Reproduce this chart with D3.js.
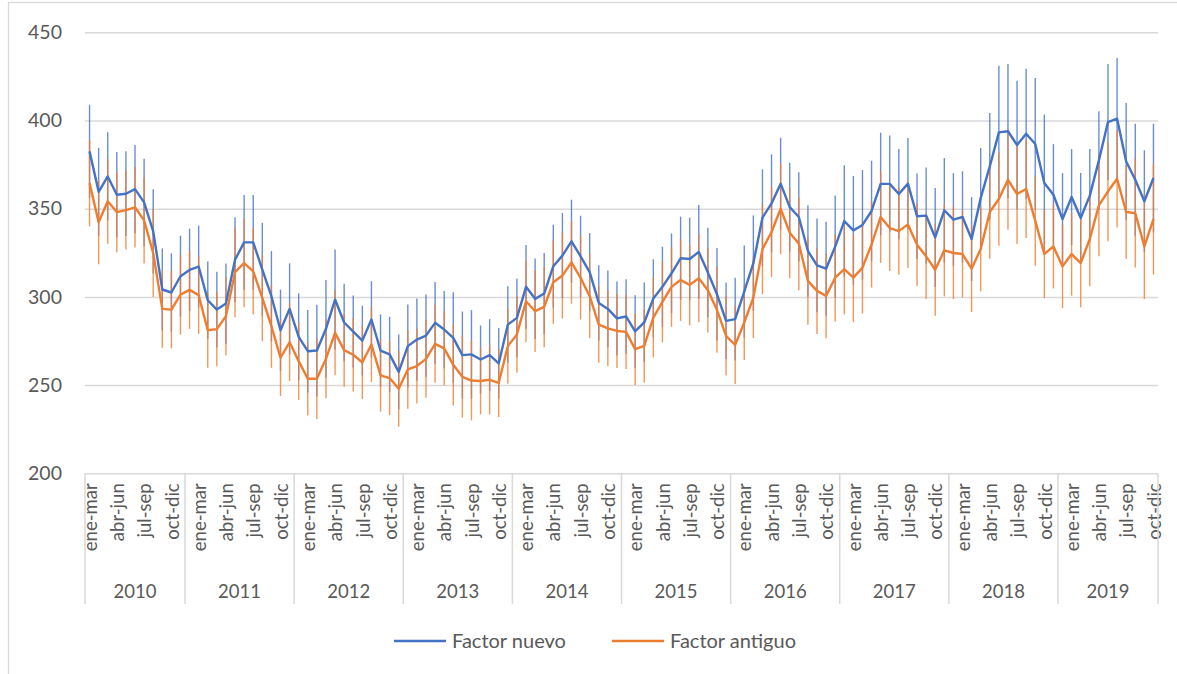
<!DOCTYPE html>
<html>
<head>
<meta charset="utf-8">
<script src="https://cdn.jsdelivr.net/npm/d3@7"></script>
<style>
  body { margin: 0; background: #fff; }
  svg { display: block; font-family: Lato, "Noto Sans", sans-serif; }
</style>
</head>
<body>
<svg width="1177" height="674"></svg>
<script>
// data: 118 rolling quarters, 2010 (ene-mar) to 2019 (oct-dic)
var years = [2010, 2011, 2012, 2013, 2014, 2015, 2016, 2017, 2018, 2019];
var trimestres = ["dic-feb","ene-mar","feb-abr","mar-may","abr-jun","may-jul","jun-ago","jul-sep","ago-oct","sep-nov","oct-dic","nov-ene"];
var yTicks = [200, 250, 300, 350, 400, 450];

var nuevo = [382.5,359.6,368.3,357.9,358.5,361.1,353.6,337.2,304.2,302.5,311.7,
  315.3,317.2,298.1,292.8,296.2,321.1,330.9,330.9,315.5,300.4,281.1,293.2,
  277.4,269.2,269.6,281.9,298.5,285.5,280.3,275.2,287.2,269.6,267.4,257.5,
  272.1,275.8,278.1,285.3,281.5,276.8,267.0,267.4,264.5,267.0,262.3,284.3,
  288.1,305.7,298.9,301.9,317.4,323.4,331.5,323.0,314.0,296.6,293.2,287.8,
  288.9,280.4,285.5,299.1,305.7,313.4,321.9,321.5,325.5,313.8,301.5,286.4,
  287.4,303.0,319.1,344.9,353.0,364.2,350.9,345.3,326.0,317.9,316.0,328.5,
  343.0,337.7,340.8,348.7,364.1,364.1,358.3,364.2,345.7,346.1,333.7,349.1,
  343.8,345.3,332.8,356.0,374.0,393.3,393.9,386.1,392.5,386.7,364.6,357.9,
  344.1,356.6,344.7,357.4,377.4,399.1,401.0,376.8,366.4,354.2,367.4];
var errNuevo = [26.4,24.9,25.1,24.2,24.0,25.0,24.7,23.8,23.2,22.2,23.0,
  23.4,23.2,22.0,21.4,22.7,24.0,26.8,26.8,26.5,25.6,23.0,25.8,
  24.6,23.4,26.0,27.7,28.3,22.0,20.5,19.8,21.7,20.5,21.3,21.2,
  23.6,23.3,23.3,23.2,21.9,25.8,24.7,25.1,19.3,20.4,20.0,21.7,
  22.3,23.7,22.8,23.0,23.5,24.1,23.6,23.0,22.2,21.3,21.7,20.9,
  21.1,20.5,22.6,22.2,22.8,22.6,23.6,23.4,26.6,25.4,26.2,21.7,
  23.5,26.2,27.1,27.4,27.8,26.0,25.1,25.3,25.9,26.6,26.6,29.0,
  31.7,30.8,31.1,28.5,29.0,27.4,25.5,25.9,24.2,27.2,28.1,29.6,
  26.4,25.9,23.8,28.4,30.3,37.8,38.1,36.5,36.9,37.4,38.7,28.7,
  26.1,27.2,25.5,26.4,27.8,32.9,34.4,33.1,31.8,28.9,30.8];

var antiguo = [364.5,342.3,354.2,348.1,349.2,350.8,343.4,324.9,293.2,292.8,301.3,
  304.0,301.0,281.1,281.7,289.1,314.0,319.1,314.5,299.4,283.4,265.5,274.3,
  263.6,253.6,253.6,264.9,279.6,269.8,267.2,262.8,273.0,255.5,254.0,247.9,
  258.9,260.8,264.9,273.4,270.8,261.5,254.7,252.6,252.3,253.0,251.3,272.1,
  278.7,297.5,291.9,294.3,308.3,312.1,319.6,310.8,300.4,284.3,282.2,280.7,
  280.2,270.4,272.3,288.3,297.2,305.7,309.6,306.8,310.6,303.8,292.6,277.9,
  272.8,285.5,299.6,327.0,336.8,350.0,336.4,330.2,309.1,303.4,300.6,310.9,
  315.7,310.9,316.6,329.8,345.3,339.0,337.3,341.1,329.6,323.0,315.4,326.4,
  324.9,324.3,316.0,327.1,348.1,355.5,366.4,358.3,361.2,343.2,324.3,328.6,
  317.3,324.3,319.2,332.8,351.9,359.8,367.0,348.1,347.5,328.6,344.1];
var errAntiguo = [24.5,23.8,24.0,22.8,22.4,22.8,24.4,25.0,22.0,22.0,22.6,
  22.1,22.0,21.3,21.0,22.3,25.5,25.0,24.5,24.5,23.6,21.7,22.0,
  22.0,20.8,22.8,22.4,24.0,20.8,20.8,20.7,21.3,20.6,21.0,21.5,
  22.3,21.2,22.1,22.1,21.0,23.0,23.2,22.6,18.9,19.6,19.4,21.3,
  21.7,23.2,23.2,22.8,23.6,24.4,23.4,23.6,23.8,21.7,21.5,21.0,
  21.1,20.4,20.8,22.6,23.0,22.7,23.2,22.9,24.8,24.0,24.3,22.4,
  22.2,21.3,23.0,25.5,25.5,25.8,25.8,26.4,24.9,24.5,24.0,24.9,
  25.5,25.1,26.0,24.5,26.0,24.3,24.7,24.7,23.6,24.2,26.1,26.1,
  26.1,24.6,24.6,24.0,26.5,26.5,28.4,28.3,27.8,25.5,25.0,23.8,
  23.6,23.6,25.1,26.8,28.9,28.3,27.6,26.6,30.8,29.8,31.5];

// build categories: 2010 starts at ene-mar, 2019 ends at oct-dic
var cats = [];
years.forEach(function(y, k) {
  var from = (k == 0) ? 1 : 0;
  var to = (k == years.length - 1) ? 10 : 11;
  for (var j = from; j <= to; j++) cats.push({year: y, label: trimestres[j]});
});

var svg = d3.select("svg");
var blue = "#4472C4", orange = "#ED7D31", grid = "#d9d9d9", txt = "#595959";

// chart area border
svg.append("rect")
  .attr("x", 8.5).attr("y", 2.5).attr("width", 1300).attr("height", 800)
  .attr("fill", "none").attr("stroke", grid).attr("stroke-width", 1.3);

var plotL = 85, plotR = 1158, plotT = 32.3, plotB = 473.3;

var x = d3.scalePoint()
  .domain(d3.range(cats.length))
  .range([plotL, plotR])
  .padding(0.5);
var step = x.step();

var y = d3.scaleLinear().domain([200, 450]).range([plotB, plotT]);

// gridlines
svg.append("g")
  .attr("transform", "translate(" + plotL + ",0)")
  .call(d3.axisLeft(y).tickValues(yTicks).tickSize(-(plotR - plotL)).tickFormat(""))
  .call(function(g) { g.select(".domain").remove(); })
  .selectAll("line").attr("stroke", grid).attr("stroke-width", 1.5);

// y labels
svg.append("g")
  .attr("transform", "translate(" + plotL + ",0)")
  .call(d3.axisLeft(y).tickValues(yTicks).tickSize(0).tickPadding(23))
  .call(function(g) { g.select(".domain").remove(); })
  .selectAll("text")
    .attr("fill", txt)
    .style("font-size", "19.5px")
    .style("font-family", "Lato, sans-serif");

// x category labels, every third one
var xAxis = svg.append("g")
  .attr("transform", "translate(0," + plotB + ")")
  .call(d3.axisBottom(x)
    .tickValues(d3.range(0, cats.length, 3))
    .tickSize(0)
    .tickFormat(function(i) { return cats[i].label; }));
xAxis.select(".domain").remove();
xAxis.selectAll("text")
  .attr("transform", "rotate(-90)")
  .attr("text-anchor", "end")
  .attr("x", -10).attr("y", 0).attr("dy", "0.36em")
  .attr("fill", txt)
  .style("font-size", "18.5px")
  .style("font-family", "Lato, sans-serif");

// year groups
var groups = years.map(function(yr) {
  var idx = cats.map(function(c, i) { return c.year == yr ? i : -1; }).filter(function(i) { return i >= 0; });
  return {year: yr, a: x(idx[0]) - step / 2, b: x(idx[idx.length - 1]) + step / 2};
});
var seps = [groups[0].a].concat(groups.map(function(g) { return g.b; }));
svg.selectAll(".sep").data(seps).enter().append("line")
  .attr("x1", function(d) { return d; }).attr("x2", function(d) { return d; })
  .attr("y1", plotB).attr("y2", 604)
  .attr("stroke", grid).attr("stroke-width", 1.5);
svg.selectAll(".yr").data(groups).enter().append("text")
  .attr("x", function(d) { return (d.a + d.b) / 2; })
  .attr("y", 591).attr("dy", "0.36em")
  .attr("text-anchor", "middle")
  .attr("fill", txt)
  .style("font-size", "18.5px")
  .text(function(d) { return d.year; });

// error bars
function errBars(vals, errs, col) {
  svg.append("g").selectAll("line").data(vals).enter().append("line")
    .attr("x1", function(d, i) { return x(i); })
    .attr("x2", function(d, i) { return x(i); })
    .attr("y1", function(d, i) { return y(d + errs[i]); })
    .attr("y2", function(d, i) { return y(d - errs[i]); })
    .attr("stroke", col).attr("stroke-width", 1.4).attr("stroke-opacity", 0.8);
}
errBars(nuevo, errNuevo, blue);
errBars(antiguo, errAntiguo, orange);

var line = d3.line()
  .x(function(d, i) { return x(i); })
  .y(function(d) { return y(d); });

svg.append("path").datum(nuevo)
  .attr("d", line).attr("fill", "none")
  .attr("stroke", blue).attr("stroke-width", 2.4).attr("stroke-linejoin", "round");
svg.append("path").datum(antiguo)
  .attr("d", line).attr("fill", "none")
  .attr("stroke", orange).attr("stroke-width", 2.4).attr("stroke-linejoin", "round");

// legend
var legend = [
  {name: "Factor nuevo", col: blue, x: 394},
  {name: "Factor antiguo", col: orange, x: 612}
];
var lg = svg.selectAll(".lg").data(legend).enter().append("g")
  .attr("transform", function(d) { return "translate(" + d.x + ",641)"; });
lg.append("line").attr("x1", 0).attr("x2", 52)
  .attr("stroke", function(d) { return d.col; }).attr("stroke-width", 2.4);
lg.append("text").attr("x", 58).attr("dy", "0.36em")
  .attr("fill", txt).style("font-size", "20px")
  .text(function(d) { return d.name; });
</script>
</body>
</html>
